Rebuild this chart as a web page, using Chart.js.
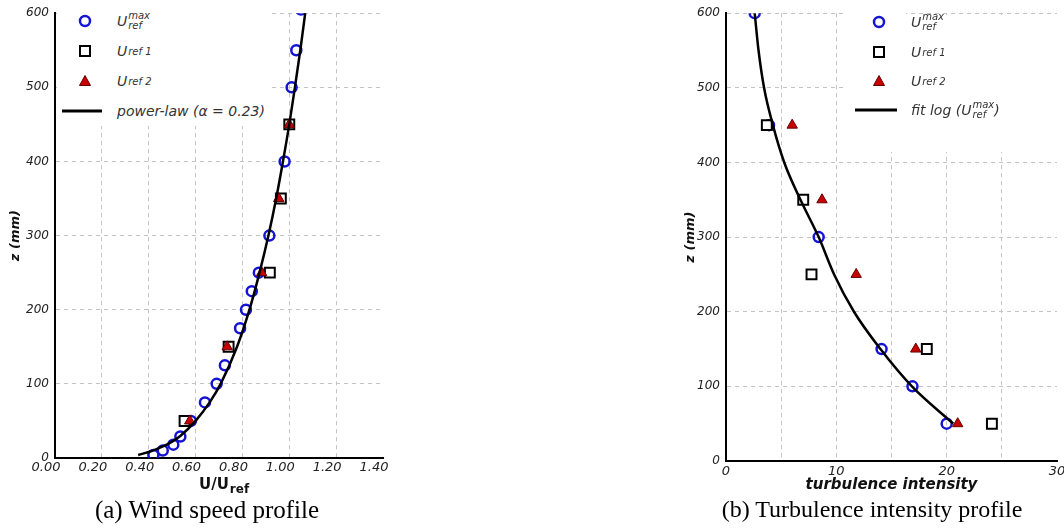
<!DOCTYPE html>
<html>
<head>
<meta charset="utf-8">
<script src="https://cdn.jsdelivr.net/npm/chart.js@4.4.1/dist/chart.umd.min.js"></script>
<style>
body{margin:0;width:1064px;height:529px;overflow:hidden;background:#fff;position:relative;font-family:"DejaVu Sans",sans-serif}
canvas{position:absolute;top:0}
#windChart{left:0}
#tiChart{left:670px}
.leg{position:absolute;background:#fff;color:#333;font-style:italic;font-size:14px}
.row{position:absolute;height:30px;display:flex;align-items:center;white-space:nowrap}
.mk{position:absolute}
.st{display:inline-block;vertical-align:middle;font-size:10px;line-height:10px;margin-left:1px}
.st span{display:block}
sub{font-size:10px;vertical-align:-4px;margin-left:1px}
.cap{position:absolute;top:496px;font-family:"Liberation Serif","Times New Roman",serif;font-size:25px;color:#000;text-align:center;white-space:nowrap}
.xt{position:absolute;font-weight:bold;font-size:15px;color:#111;white-space:nowrap}
</style>
</head>
<body>
<canvas id="windChart" width="403" height="500"></canvas>
<canvas id="tiChart" width="400" height="500"></canvas>

<!-- legende (a) -->
<div class="leg" style="left:57px;top:0;width:213px;height:126px">
  <svg class="mk" style="left:20px;top:13px" width="16" height="16"><circle cx="8" cy="8" r="5" fill="none" stroke="#1414d2" stroke-width="2.5"/></svg>
  <svg class="mk" style="left:20px;top:43px" width="16" height="16"><rect x="3" y="3" width="10" height="10" fill="#fff" stroke="#000" stroke-width="2"/></svg>
  <svg class="mk" style="left:20px;top:73px" width="16" height="16"><polygon points="8,2.5 13.5,12.5 2.5,12.5" fill="#c80000" stroke="#600" stroke-width="1"/></svg>
  <svg class="mk" style="left:5px;top:108px" width="40" height="6"><line x1="0" y1="3" x2="40" y2="3" stroke="#000" stroke-width="3"/></svg>
  <div class="row" style="left:60px;top:6px">U<span class="st"><span>max</span><span>ref</span></span></div>
  <div class="row" style="left:60px;top:36px">U<sub>ref 1</sub></div>
  <div class="row" style="left:60px;top:66px">U<sub>ref 2</sub></div>
  <div class="row" style="left:60px;top:96px;font-size:14px">power-law (α = 0.23)</div>
</div>

<!-- legende (b) -->
<div class="leg" style="left:846px;top:0;width:60px;height:16px"></div>
<div class="leg" style="left:846px;top:15px;width:218px;height:137px">
  <svg class="mk" style="left:25px;top:-1px" width="16" height="16"><circle cx="8" cy="8" r="5" fill="none" stroke="#1414d2" stroke-width="2.5"/></svg>
  <svg class="mk" style="left:25px;top:29px" width="16" height="16"><rect x="3" y="3" width="10" height="10" fill="#fff" stroke="#000" stroke-width="2"/></svg>
  <svg class="mk" style="left:25px;top:58px" width="16" height="16"><polygon points="8,2.5 13.5,12.5 2.5,12.5" fill="#c80000" stroke="#600" stroke-width="1"/></svg>
  <svg class="mk" style="left:9px;top:92px" width="42" height="6"><line x1="0" y1="3" x2="42" y2="3" stroke="#000" stroke-width="3"/></svg>
  <div class="row" style="left:65px;top:-8px">U<span class="st"><span>max</span><span>ref</span></span></div>
  <div class="row" style="left:65px;top:22px">U<sub>ref 1</sub></div>
  <div class="row" style="left:65px;top:51px">U<sub>ref 2</sub></div>
  <div class="row" style="left:65px;top:80px">fit log (U<span class="st"><span>max</span><span>ref</span></span>)</div>
</div>

<div class="xt" style="left:199px;top:475px">U/U<sub style="font-size:12px">ref</sub></div>
<div class="cap" style="left:57px;width:300px">(a) Wind speed profile</div>
<div class="cap" style="left:672px;width:400px;font-size:24px">(b) Turbulence intensity profile</div>

<script>
// (a) profil de vitesse : hauteur z (mm) et U/Uref
const maxZ = [4, 10, 18, 29, 50, 75, 100, 125, 175, 200, 225, 250, 300, 400, 500, 550, 605];
const maxU = [0.42, 0.46, 0.505, 0.535, 0.58, 0.64, 0.69, 0.725, 0.79, 0.815, 0.84, 0.87, 0.915, 0.98, 1.01, 1.03, 1.05];
const refZ = [50, 150, 250, 350, 450];
const ref1U = [0.553, 0.741, 0.917, 0.964, 1.0];
const ref2U = [0.575, 0.735, 0.882, 0.955, 1.0];
const powZ = [4, 10, 20, 30, 50, 75, 100, 150, 200, 250, 300, 350, 400, 450, 500, 550, 600];
const powU = [0.355, 0.417, 0.489, 0.536, 0.600, 0.660, 0.707, 0.777, 0.830, 0.873, 0.911, 0.944, 0.973, 1.0, 1.024, 1.047, 1.068];
const uTicks = [0, 0.2, 0.4, 0.6, 0.8, 1.0, 1.2, 1.4];

// (b) intensite de turbulence (%)
const tiMaxZ = [600, 450, 300, 150, 100, 50];
const tiMax = [2.6, 3.9, 8.4, 14.1, 16.9, 20.0];
const ti1 = [3.7, 7.0, 7.75, 18.2, 24.1];
const ti2 = [6.0, 8.7, 11.8, 17.2, 21.0];
const tiRefZ = [450, 350, 250, 150, 50];
const fitZ = [600, 550, 500, 450, 400, 350, 300, 250, 200, 150, 100, 50];
const fitTi = [2.6, 2.95, 3.45, 4.25, 5.28, 6.75, 8.4, 9.8, 11.6, 14.0, 16.85, 20.6];
const zTicks = [0, 100, 200, 300, 400, 500, 600];

function pts(xs, zs) { return xs.map((x, i) => ({x: x, y: zs[i]})); }

const fam = '"DejaVu Sans", sans-serif';
const gridCol = '#c4c4c4';

function circles(data) {
  return {data: data, pointStyle: 'circle', pointRadius: 5, borderWidth: 2.5, borderColor: '#1414d2', backgroundColor: 'rgba(0,0,0,0)', order: 3};
}
function squares(data) {
  return {data: data, pointStyle: 'rect', pointRadius: 7, borderWidth: 2, borderColor: '#000', backgroundColor: '#fff', order: 2};
}
function triangles(data) {
  return {data: data, pointStyle: 'triangle', pointRadius: 6, borderWidth: 1, borderColor: '#600', backgroundColor: '#c80000', order: 1};
}
function fitLine(data) {
  return {data: data, showLine: true, pointRadius: 0, borderWidth: 2.5, borderColor: '#000', cubicInterpolationMode: 'monotone', order: 0};
}

function zAxis(width, titlePad) {
  return {
    type: 'linear', min: 0, max: 600,
    afterBuildTicks: s => { s.ticks = zTicks.map(v => ({value: v})); },
    ticks: {font: {family: fam, size: 12, style: 'italic'}, color: '#222', padding: 6},
    grid: {color: gridCol, drawTicks: false},
    border: {color: '#000', width: 2, dash: [4, 4]},
    title: {display: true, text: 'z (mm)', color: '#111', font: {family: fam, size: 13, weight: 'bold', style: 'italic'}, padding: {top: titlePad}},
    afterFit: s => { s.width = width; }
  };
}

const common = {
  responsive: false, animation: false, devicePixelRatio: 1,
  plugins: {legend: {display: false}, tooltip: {enabled: false}}
};

new Chart(document.getElementById('windChart'), {
  type: 'scatter',
  data: {datasets: [
    circles(pts(maxU, maxZ)),
    squares(pts(ref1U, refZ)),
    triangles(pts(ref2U, refZ)),
    fitLine(pts(powU, powZ))
  ]},
  options: Object.assign({}, common, {
    layout: {padding: {top: 11, right: 20, left: 0, bottom: 0}},
    scales: {
      x: {
        type: 'linear', min: 0, max: 1.4,
        afterBuildTicks: s => { s.ticks = uTicks.map(v => ({value: v})); },
        ticks: {font: {family: fam, size: 13, style: 'italic'}, color: '#222', padding: 2, labelOffset: -9,
                callback: v => v.toFixed(2)},
        grid: {color: c => (c.tick && c.tick.value >= 1.4) ? 'rgba(0,0,0,0)' : gridCol, drawTicks: false},
        border: {color: '#000', width: 2, dash: [4, 4]},
        afterFit: s => { s.height = 42; }
      },
      y: zAxis(55, 8)
    }
  })
});

new Chart(document.getElementById('tiChart'), {
  type: 'scatter',
  data: {datasets: [
    circles(pts(tiMax, tiMaxZ)),
    squares(pts(ti1, tiRefZ)),
    triangles(pts(ti2, tiRefZ)),
    fitLine(pts(fitTi, fitZ))
  ]},
  options: Object.assign({}, common, {
    layout: {padding: {top: 9, right: 13, left: 0, bottom: 0}},
    scales: {
      x: {
        type: 'linear', min: 0, max: 30,
        ticks: {stepSize: 5, font: {family: fam, size: 13, style: 'italic'}, color: '#222', padding: 3,
                callback: v => (v % 10 === 0 ? v : '')},
        grid: {color: c => (c.tick && c.tick.value >= 30) ? 'rgba(0,0,0,0)' : gridCol, drawTicks: false},
        border: {color: '#000', width: 2, dash: [4, 4]},
        title: {display: true, text: 'turbulence intensity', color: '#111', font: {family: fam, size: 15, weight: 'bold', style: 'italic'}, padding: {top: 0, bottom: 6}},
        afterFit: s => { s.height = 39; }
      },
      y: zAxis(56, 13)
    }
  })
});
</script>
</body>
</html>
